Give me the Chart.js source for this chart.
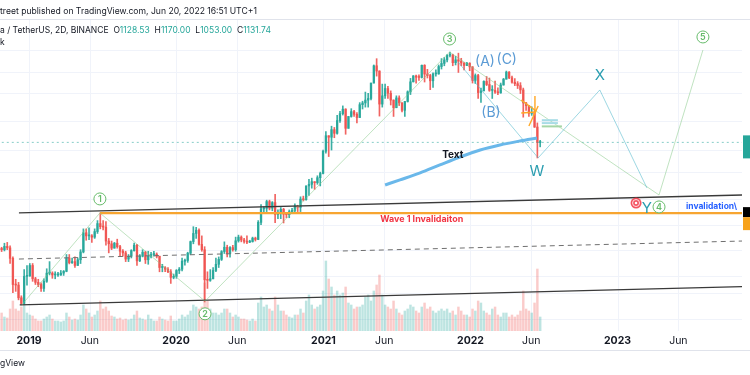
<!DOCTYPE html>
<html>
<head>
<meta charset="utf-8">
<script src="https://cdn.jsdelivr.net/npm/chart.js@4.4.0/dist/chart.umd.min.js"></script>
<style>
  html, body { margin: 0; padding: 0; background: #fff; }
  canvas { display: block; }
</style>
</head>
<body>
<canvas id="chart" width="750" height="375"></canvas>
<script>
var firstWeek = '2018-10-22';
var firstOpen = 204;

var closes = [
  200, 211, 206, 174, 114, 113, 92, 84, 130, 131, 155,
  125, 118, 114, 107, 120, 137, 137, 133, 133, 133, 137, 141, 175, 162, 165, 155, 170,
  193, 263, 250, 250, 245, 268, 305, 290, 288, 230, 220, 205, 222,
  210, 195, 190, 172, 180, 197, 215, 167, 180, 192, 170, 180, 185, 186, 180, 150, 150, 146, 140, 128, 130, 143,
  146, 166, 168, 189, 228, 260, 274, 218, 200, 123, 122, 125, 143, 158, 171, 194, 208, 188, 207, 200, 231,
  245, 234, 229, 226, 228, 241, 236, 311, 387, 390, 435, 391, 428, 353, 365, 384, 355, 352,
  370, 377, 405, 396, 453, 448, 560, 575, 600, 590, 640, 685, 980,
  1260, 1230, 1390, 1310, 1610, 1800, 1935, 1420, 1720, 1860, 1780, 1690, 2080, 2140, 2240, 2300, 2950,
  3900, 3580, 2100, 2400, 2700, 2500, 2240, 1980, 2320, 2140, 1900, 2190, 2560,
  3010, 3310, 3240, 3230, 3930, 3410, 3330, 3060, 3420, 3420, 3850, 4050, 4290,
  4620, 4640, 4100, 4290, 4200, 4080, 3920, 4060, 3830,
  3080, 3330, 2530, 2600, 3030, 2880, 2620, 2620, 2550, 2520, 2860, 3140, 3520,
  3210, 2990, 2920, 2830, 2640, 2140, 2050, 1810, 1810, 1450, 1128.53, 1131.74
];
var highs = [
  208, 222, 225, 213, 178, 124, 118, 95, 145, 155, 160,
  160, 128, 124, 117, 125, 147, 165, 140, 140, 139, 143, 143, 185, 185, 175, 178, 175,
  200, 280, 280, 285, 255, 280, 320, 362, 320, 315, 240, 230, 225,
  237, 215, 200, 195, 185, 200, 223, 218, 185, 200, 195, 195, 192, 195, 190, 180, 158, 152, 150, 145, 135, 145,
  150, 175, 172, 192, 230, 290, 287, 280, 250, 210, 140, 145, 150, 175, 178, 197, 227, 215, 210, 215, 245,
  253, 250, 240, 250, 233, 245, 245, 320, 415, 400, 445, 445, 435, 490, 380, 395, 390, 365,
  380, 390, 420, 410, 470, 475, 560, 622, 635, 600, 660, 700, 1000,
  1350, 1260, 1470, 1440, 1750, 1870, 2040, 1950, 1720, 1950, 1900, 1830, 2150, 2200, 2550, 2500, 2950,
  3950, 4372, 3600, 2900, 2900, 2800, 2600, 2250, 2400, 2400, 2150, 2200, 2600,
  3180, 3330, 3350, 3370, 3950, 3970, 3680, 3400, 3480, 3650, 3950, 4380, 4460,
  4670, 4868, 4700, 4550, 4780, 4400, 4100, 4130, 4100,
  3850, 3420, 3400, 2720, 3060, 3280, 3200, 2830, 3040, 2730, 2950, 3180, 3580,
  3550, 3300, 3170, 3020, 2970, 2720, 2160, 2050, 2010, 1900, 1550, 1170
];
var lows = [
  194, 196, 200, 160, 100, 102, 89, 82, 83, 113, 130,
  120, 114, 110, 102, 102, 118, 133, 126, 125, 130, 132, 132, 140, 159, 160, 150, 155,
  160, 190, 233, 235, 225, 240, 260, 280, 275, 215, 190, 200, 205,
  205, 180, 180, 165, 165, 175, 195, 155, 165, 178, 160, 158, 175, 180, 175, 140, 140, 140, 138, 116, 125, 126,
  136, 142, 156, 163, 185, 220, 240, 215, 195, 86, 107, 120, 125, 140, 150, 168, 188, 178, 177, 195, 195,
  226, 227, 222, 220, 224, 226, 230, 235, 300, 365, 370, 380, 375, 310, 330, 330, 308, 335,
  335, 365, 365, 370, 370, 440, 445, 480, 540, 530, 575, 560, 680,
  950, 900, 1000, 1220, 1290, 1560, 1760, 1290, 1420, 1700, 1720, 1550, 1690, 1940, 2000, 2000, 2250,
  2950, 3300, 1730, 2000, 2300, 2300, 2070, 1720, 1980, 2050, 1850, 1720, 2170,
  2450, 3000, 2950, 3080, 3200, 3000, 3200, 2650, 2750, 3300, 3400, 3700, 3900,
  4150, 4500, 3900, 3950, 3500, 3900, 3650, 3900, 3600,
  2950, 2930, 2300, 2160, 2600, 2830, 2580, 2300, 2500, 2450, 2500, 2850, 3140,
  3170, 2950, 2830, 2700, 2490, 1700, 1900, 1720, 1750, 1440, 880, 1053
];
// volume, relative bar heights
var volumes = [
  18, 14, 13, 22, 30, 22, 20, 24, 26, 18, 16,
  15, 12, 10, 10, 12, 14, 16, 12, 10, 10, 9, 10, 18, 14, 11, 12, 11,
  16, 26, 22, 18, 14, 16, 20, 30, 22, 24, 20, 15, 14,
  12, 13, 11, 12, 11, 12, 16, 20, 13, 12, 11, 16, 12, 10, 10, 14, 12, 11, 10, 15, 10, 10,
  12, 16, 14, 16, 20, 26, 24, 22, 24, 48, 30, 22, 18, 18, 16, 18, 22, 22, 18, 14, 16,
  14, 12, 12, 11, 10, 12, 10, 28, 34, 24, 26, 22, 20, 34, 26, 20, 20, 16,
  14, 13, 16, 16, 22, 18, 30, 36, 26, 22, 24, 26, 40,
  70, 52, 44, 36, 40, 36, 38, 44, 28, 26, 22, 24, 24, 26, 34, 36, 30,
  40, 46, 56, 36, 26, 24, 22, 30, 22, 18, 16, 20, 22,
  26, 24, 20, 18, 24, 28, 22, 24, 20, 18, 20, 22, 20,
  22, 18, 20, 16, 24, 20, 16, 16, 14,
  22, 20, 30, 28, 20, 18, 16, 22, 24, 16, 14, 18, 18,
  14, 16, 14, 16, 20, 40, 22, 20, 18, 28, 62, 14
];
var lastPrice = 1131.74;

// drawings
var channelTopDates = ['2018-12-07', '2023-11-09'];
var channelTopPrices = [362, 484];
var channelBottomDates = ['2018-12-09', '2023-11-06'];
var channelBottomPrices = [82, 110];
var channelMidDates = ['2018-12-07', '2023-11-06'];
var channelMidPrices = [172, 230];
var wave1Dates = ['2019-06-26', '2023-11-06'];
var wave1Prices = [361, 361];

var waveDates = ['2018-12-14', '2019-06-26', '2020-03-13', '2021-11-10', '2023-04-14', '2023-08-01'];
var wavePrices = [82, 362, 87, 4868, 484, 5030];
var wxyDates = ['2021-12-01', '2022-06-18', '2022-11-18', '2023-03-15'];
var wxyPrices = [4146, 881, 2638, 542];
var curveDates = ['2021-06-03', '2021-07-10', '2021-08-29', '2021-10-17', '2021-12-06',
  '2022-01-25', '2022-03-15', '2022-05-04', '2022-06-15'];
var curvePrices = [569, 617, 691, 786, 894, 1001, 1085, 1158, 1215];
var triangleSegments = [
  [['2022-05-07', 2244], ['2022-06-13', 1880]],
  [['2022-05-07', 1819], ['2022-06-13', 1849]],
  [['2022-06-10', 2394], ['2022-06-10', 1819]],
  [['2022-05-26', 1475], ['2022-06-18', 2037]]
];
var targetLines = [
  [['2022-06-27', 1620], ['2022-08-06', 1620], '#a8dce6'],
  [['2022-06-27', 1545], ['2022-08-06', 1545], '#a8dce6'],
  [['2022-06-27', 1465], ['2022-08-16', 1465], '#a5d6a7']
];

var waveNames = ['1', '2', '3', '4', '5'];
var waveLabelDates = ['2019-06-26', '2020-03-13', '2021-11-10', '2023-04-14', '2023-08-01'];
var waveLabelPrices = [454, 71, 6010, 399, 6210];
var abcNames = ['(A)', '(B)', '(C)'];
var abcDates = ['2022-02-06', '2022-02-21', '2022-04-01'];
var abcPrices = [4146, 1819, 4281];
var wxyNames = ['W', 'X', 'Y'];
var wxyLabelDates = ['2022-06-15', '2022-11-18', '2023-03-15'];
var wxyLabelPrices = [702, 3307, 392];
var notes = [
  ['Text', '2021-11-18', 924],
  ['Wave 1 Invalidaiton', '2021-09-02', 329],
  ['invalidation\\', '2023-06-20', 405]
];
var stopMark = ['2023-02-16', 425];

var gridPrices = [5000, 3500, 2500, 1600, 1000, 700, 450, 300, 200, 130, 100, 65];
var timeTicks = [['2019-01-01', '2019'], ['2019-06-01', 'Jun'], ['2020-01-01', '2020'], ['2020-06-01', 'Jun'],
  ['2021-01-01', '2021'], ['2021-06-01', 'Jun'], ['2022-01-01', '2022'], ['2022-06-01', 'Jun'],
  ['2023-01-01', '2023'], ['2023-06-01', 'Jun']];

var DAY0 = Date.UTC(2019, 0, 1);
function day(s) {
  var p = s.split('-');
  return (Date.UTC(+p[0], +p[1] - 1, +p[2]) - DAY0) / 86400000;
}
function pts(dates, prices) {
  return dates.map(function (d, i) { return { x: day(d), y: prices[i] }; });
}

var up = '#26a69a', down = '#ef5350';
var wickData = [], bodyData = [], volData = [], candleColors = [], volColors = [];
var start = day(firstWeek);
for (var i = 0; i < closes.length; i++) {
  var o = i === 0 ? firstOpen : closes[i - 1];
  var c = closes[i];
  var xd = start + i * 7 + 3;
  wickData.push({ x: xd, y: [lows[i], highs[i]] });
  bodyData.push({ x: xd, y: [Math.min(o, c), Math.max(o, c)] });
  volData.push({ x: xd, y: volumes[i] });
  candleColors.push(c >= o ? 'rgba(38,166,154,0.9)' : 'rgba(239,83,80,0.9)');
  volColors.push(c >= o ? 'rgba(38,166,154,0.3)' : 'rgba(239,83,80,0.3)');
}

function lineSet(data, color, width, order, extra) {
  var ds = {
    type: 'line', data: data, borderColor: color, borderWidth: width,
    pointRadius: 0, fill: false, tension: 0, order: order, yAxisID: 'y'
  };
  for (var k in extra || {}) ds[k] = extra[k];
  return ds;
}

var datasets = [
  { type: 'bar', data: volData, yAxisID: 'v', backgroundColor: volColors, barThickness: 1.8, grouped: false, order: 30 },
  { type: 'bar', data: wickData, yAxisID: 'y', backgroundColor: candleColors, barThickness: 1, grouped: false, order: 29 },
  { type: 'bar', data: bodyData, yAxisID: 'y', backgroundColor: candleColors, barThickness: 1.7, grouped: false, minBarLength: 1, order: 28 },
  lineSet([{ x: -80, y: lastPrice }, { x: 1800, y: lastPrice }], 'rgba(38,166,154,0.55)', 1, 27, { borderDash: [2, 3] }),
  lineSet(pts(channelTopDates, channelTopPrices), '#3a3a3a', 1.3, 20),
  lineSet(pts(channelBottomDates, channelBottomPrices), '#3a3a3a', 1.3, 20),
  lineSet(pts(channelMidDates, channelMidPrices), '#6f6f6f', 1, 20, { borderDash: [5, 4] }),
  lineSet(pts(wave1Dates, wave1Prices), '#f7a530', 2.2, 19),
  lineSet(pts(waveDates, wavePrices), 'rgba(129,199,132,0.5)', 1, 18),
  lineSet(pts(wxyDates, wxyPrices), 'rgba(77,182,202,0.55)', 1, 17),
  lineSet(pts(curveDates, curvePrices), '#6ab8ea', 3, 16, { tension: 0.4, cubicInterpolationMode: 'monotone' })
];
triangleSegments.forEach(function (s) {
  datasets.push(lineSet([{ x: day(s[0][0]), y: s[0][1] }, { x: day(s[1][0]), y: s[1][1] }], '#ffa726', 1.4, 15));
});
targetLines.forEach(function (s) {
  datasets.push(lineSet([{ x: day(s[0][0]), y: s[0][1] }, { x: day(s[1][0]), y: s[1][1] }], s[2], 2, 15));
});

var FONT = 'Inter, "Noto Sans", sans-serif';

function fitFont(ctx, text, weight, target) {
  ctx.font = weight + ' 10px ' + FONT;
  var size = 10 * target / ctx.measureText(text).width;
  return weight + ' ' + size.toFixed(2) + 'px ' + FONT;
}

var overlay = {
  id: 'overlay',
  beforeDatasetsDraw: function (chart) {
    var g = chart.ctx, a = chart.chartArea, sx = chart.scales.x, sy = chart.scales.y;
    g.save();
    g.strokeStyle = '#f0f3fa';
    g.lineWidth = 1;
    gridPrices.forEach(function (p) {
      var py = Math.round(sy.getPixelForValue(p)) + 0.5;
      g.beginPath(); g.moveTo(a.left, py); g.lineTo(a.right, py); g.stroke();
    });
    timeTicks.forEach(function (t) {
      var px = Math.round(sx.getPixelForValue(day(t[0]))) + 0.5;
      g.beginPath(); g.moveTo(px, a.top); g.lineTo(px, a.bottom); g.stroke();
    });
    g.restore();
  },
  afterDatasetsDraw: function (chart) {
    var g = chart.ctx, sx = chart.scales.x, sy = chart.scales.y;
    function X(d) { return sx.getPixelForValue(day(d)); }
    function Y(p) { return sy.getPixelForValue(p); }
    g.save();
    g.textAlign = 'center';
    g.textBaseline = 'middle';

    // wave count circles
    waveNames.forEach(function (n, i) {
      var cx = X(waveLabelDates[i]), cy = Y(waveLabelPrices[i]);
      g.beginPath(); g.arc(cx, cy, 6, 0, Math.PI * 2);
      g.fillStyle = '#fff'; g.fill();
      g.strokeStyle = '#66bb6a'; g.lineWidth = 1; g.stroke();
      g.fillStyle = '#66bb6a'; g.font = '600 9px ' + FONT;
      g.fillText(n, cx, cy + 0.5);
    });
    // (A) (B) (C)
    g.fillStyle = '#5b9bd5';
    g.font = '14px ' + FONT;
    abcNames.forEach(function (n, i) { g.fillText(n, X(abcDates[i]), Y(abcPrices[i])); });
    // W X Y
    g.fillStyle = '#2a9db0';
    g.font = '15px ' + FONT;
    wxyNames.forEach(function (n, i) { g.fillText(n, X(wxyLabelDates[i]), Y(wxyLabelPrices[i])); });

    // notes
    g.font = 'bold 10px ' + FONT;
    g.fillStyle = '#131722';
    g.fillText(notes[0][0], X(notes[0][1]), Y(notes[0][2]));
    g.fillStyle = '#f23645';
    g.font = fitFont(g, notes[1][0], 'bold', 83);
    g.fillText(notes[1][0], X(notes[1][1]), Y(notes[1][2]));
    g.fillStyle = '#2962ff';
    g.textAlign = 'left';
    g.font = fitFont(g, notes[2][0], 'bold', 51);
    g.fillText(notes[2][0], X(notes[2][1]), Y(notes[2][2]));

    // stop marker
    var tx = X(stopMark[0]), ty = Y(stopMark[1]);
    g.beginPath(); g.arc(tx, ty, 5.5, 0, Math.PI * 2); g.fillStyle = 'rgba(242,54,69,0.85)'; g.fill();
    g.beginPath(); g.arc(tx, ty, 3.5, 0, Math.PI * 2); g.strokeStyle = 'rgba(255,255,255,0.8)'; g.lineWidth = 1; g.stroke();
    g.beginPath(); g.arc(tx, ty, 1.3, 0, Math.PI * 2); g.fillStyle = '#fff'; g.fill();
    g.restore();
  },
  afterDraw: function (chart) {
    var g = chart.ctx, a = chart.chartArea, sx = chart.scales.x, sy = chart.scales.y;
    g.save();
    // price scale markers
    var py = sy.getPixelForValue(lastPrice);
    g.fillStyle = '#26a69a';
    g.fillRect(a.right + 1, py - 7, 8, 23);
    var oy = sy.getPixelForValue(wave1Prices[0]);
    g.fillStyle = '#000';
    g.fillRect(a.right + 1, oy - 6, 8, 10);
    g.fillStyle = '#f7a21b';
    g.fillRect(a.right + 1, oy + 4, 8, 13);

    // separators
    g.strokeStyle = '#e0e3eb';
    g.lineWidth = 1;
    g.beginPath(); g.moveTo(0, 19.5); g.lineTo(750, 19.5); g.stroke();
    g.beginPath(); g.moveTo(0, 350.5); g.lineTo(750, 350.5); g.stroke();

    // time axis
    g.fillStyle = '#131722';
    g.textAlign = 'center';
    g.textBaseline = 'middle';
    timeTicks.forEach(function (t) {
      g.font = (t[1] === 'Jun' ? '400' : '700') + ' 10.5px ' + FONT;
      g.fillText(t[1], sx.getPixelForValue(day(t[0])), 341);
    });

    // header
    g.textAlign = 'left';
    var h1 = 'treet published on TradingView.com, Jun 20, 2022 16:51 UTC+1';
    g.font = fitFont(g, h1, '400', 257);
    g.fillText(h1, 0, 11);

    var parts = [['a / TetherUS, 2D, BINANCE  O', '#131722'], ['1128.53', up], ['  H', '#131722'], ['1170.00', up],
      ['  L', '#131722'], ['1053.00', up], ['  C', '#131722'], ['1131.74', up]];
    var full = parts.map(function (p) { return p[0]; }).join('');
    g.font = fitFont(g, full, '400', 271);
    var cx = 0;
    parts.forEach(function (p) {
      g.fillStyle = p[1];
      g.fillText(p[0], cx, 30);
      cx += g.measureText(p[0]).width;
    });
    g.fillStyle = '#131722';
    g.fillText('k', 0, 42);
    g.fillText('gView', 0, 363);
    g.restore();
  }
};

new Chart(document.getElementById('chart'), {
  type: 'bar',
  data: { datasets: datasets },
  options: {
    responsive: false,
    animation: false,
    devicePixelRatio: 1,
    layout: { padding: { left: 0, right: 8, top: 20, bottom: 44 } },
    plugins: { legend: { display: false }, tooltip: { enabled: false } },
    scales: {
      x: { type: 'linear', min: -72, max: 1770, offset: false, display: false },
      y: { type: 'logarithmic', min: 53.8, max: 8167, display: false },
      v: { type: 'linear', min: 0, max: 311, display: false }
    }
  },
  plugins: [overlay]
});
</script>
</body>
</html>
